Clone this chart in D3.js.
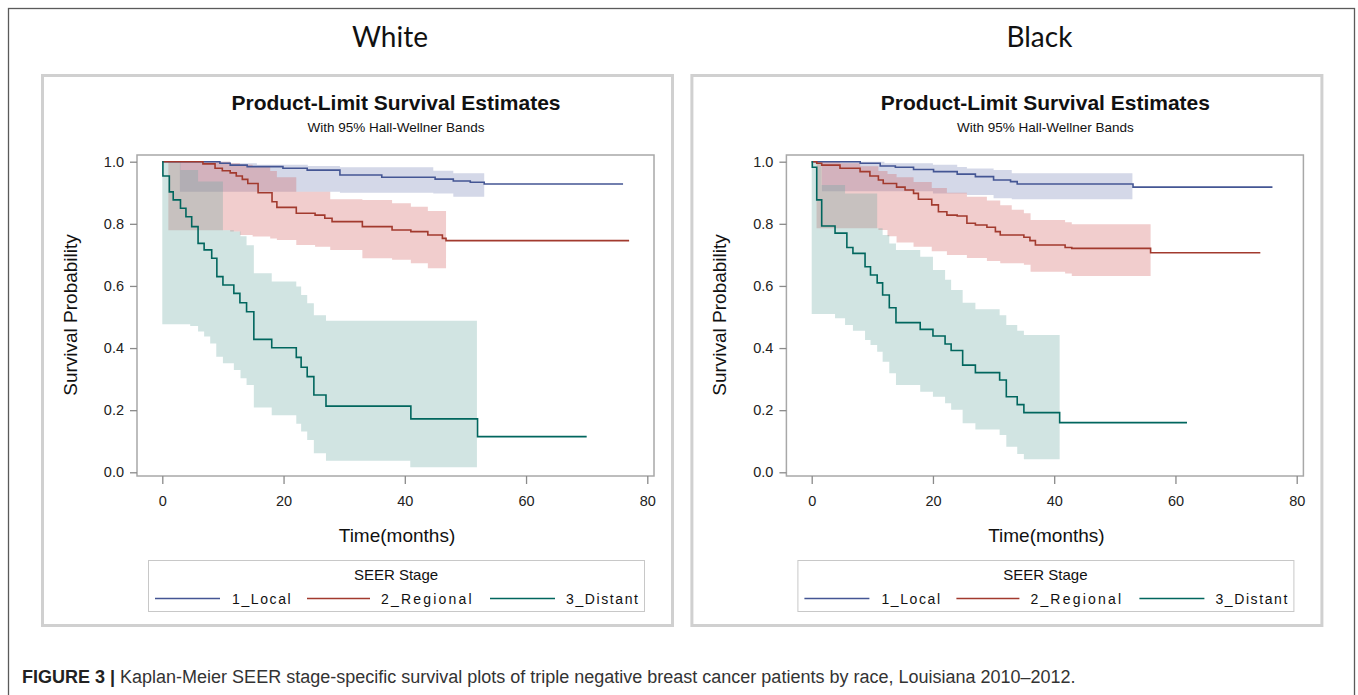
<!DOCTYPE html>
<html>
<head>
<meta charset="utf-8">
<script src="https://cdn.jsdelivr.net/npm/d3@7"></script>
<style>
  html, body { margin: 0; padding: 0; background: #fff; }
  svg { display: block; }
  text { font-family: "Liberation Sans", Arial, sans-serif; }
</style>
</head>
<body>
<svg id="chart" width="1358" height="695"></svg>
<script>
// ---------------- DATA ----------------
const panelNames = ["White", "Black"];
const seriesNames = ["1_Local", "2_Regional", "3_Distant"];
const xTicks = [0, 20, 40, 60, 80];
const yTicks = [0.0, 0.2, 0.4, 0.6, 0.8, 1.0];

// step points [time, survival]; curve held to the end time
const whiteLocal = [[0,1.0],[9.5,0.995],[11.2,0.989],[14,0.984],[19.9,0.979],[23.9,0.973],[29.3,0.957],[36.2,0.950],[45,0.944],[48,0.938],[50.8,0.934],[53.1,0.928]];
const whiteLocalEnd = 76;
const whiteRegional = [[0,1.0],[6.7,0.993],[8.7,0.979],[9.9,0.971],[11.2,0.964],[12.2,0.954],[13.2,0.943],[14.1,0.930],[15.8,0.900],[18.1,0.871],[18.9,0.853],[22.1,0.834],[25.2,0.828],[26.8,0.818],[28,0.807],[33,0.791],[37.9,0.780],[41,0.775],[43.8,0.764],[46.2,0.753],[46.8,0.746]];
const whiteRegionalEnd = 77;
const whiteDistant = [[0,1.0],[0.1,0.954],[1.16,0.903],[1.8,0.877],[3.0,0.850],[3.9,0.823],[4.85,0.791],[5.9,0.737],[6.9,0.716],[8.15,0.689],[9.0,0.630],[10.0,0.603],[11.8,0.576],[12.8,0.546],[13.9,0.517],[15.1,0.428],[18.05,0.401],[22.1,0.370],[22.9,0.338],[23.9,0.308],[25.0,0.249],[27.0,0.213],[41.0,0.172],[52.0,0.115]];
const whiteDistantEnd = 70;

// Hall-Wellner bands [time, lower, upper]
const whiteLocalBand = [[2.9,0.903,1.0],[11.2,0.903,0.995],[15.6,0.903,0.99],[24,0.903,0.986],[29.3,0.900,0.982],[44.7,0.898,0.971],[48,0.887,0.963]];
const whiteLocalBandEnd = 53.1;
const whiteRegionalBand = [[1.0,0.779,1.0],[11.2,0.775,0.995],[12.8,0.764,0.99],[14.9,0.759,0.985],[17.8,0.753,0.97],[18.9,0.748,0.95],[22.1,0.732,0.903],[25.2,0.726,0.903],[27.7,0.716,0.879],[33,0.689,0.877],[37.9,0.684,0.866],[41,0.673,0.855],[43.8,0.657,0.841]];
const whiteRegionalBandEnd = 46.8;
const whiteDistantBand = [[0,0.477,1.0],[3.0,0.477,0.973],[4.6,0.471,0.973],[5.9,0.453,0.936],[6.9,0.437,0.936],[7.9,0.415,0.936],[8.9,0.372,0.936],[10.0,0.351,0.779],[11.8,0.329,0.775],[12.9,0.303,0.76],[13.9,0.281,0.731],[15.1,0.209,0.641],[18.05,0.184,0.614],[22.1,0.156,0.598],[22.9,0.131,0.571],[23.9,0.104,0.544],[25.0,0.061,0.506],[27.0,0.037,0.488],[40.9,0.016,0.488]];
const whiteDistantBandEnd = 51.9;

const blackLocal = [[0,1.0],[8,0.995],[11.3,0.986],[13.8,0.982],[16.8,0.975],[20.1,0.968],[24,0.960],[27,0.952],[30,0.941],[32.8,0.936],[33.9,0.928],[53,0.918]];
const blackLocalEnd = 76;
const blackRegional = [[0,1.0],[0.83,0.995],[1.65,0.989],[4.67,0.979],[7.98,0.968],[9.6,0.954],[11,0.941],[11.8,0.930],[14,0.918],[15.4,0.909],[16.8,0.898],[17.6,0.879],[19.8,0.861],[20.9,0.839],[22.3,0.828],[24,0.825],[25.6,0.802],[27,0.796],[28.9,0.789],[30.3,0.775],[31.1,0.764],[35,0.757],[36,0.746],[36.9,0.732],[41.8,0.724],[42.9,0.721],[55.9,0.707]];
const blackRegionalEnd = 74;
const blackDistant = [[0,1.0],[0.1,0.982],[0.83,0.877],[1.65,0.793],[3.85,0.770],[5.8,0.724],[6.8,0.705],[8.8,0.662],[9.7,0.635],[10.8,0.610],[11.7,0.571],[12.8,0.530],[13.9,0.482],[17.9,0.460],[20,0.439],[22,0.413],[23,0.392],[24.9,0.345],[27,0.321],[31,0.297],[32.1,0.243],[33.9,0.218],[35,0.192],[40.9,0.160]];
const blackDistantEnd = 61.9;

const blackLocalBand = [[1.7,0.905,1.0],[12,0.905,0.995],[20,0.898,0.99],[24,0.898,0.983],[25.6,0.893,0.978],[30,0.882,0.973],[33,0.879,0.963]];
const blackLocalBandEnd = 52.9;
const blackRegionalBand = [[0.8,0.786,1.0],[4.67,0.786,0.995],[8,0.786,0.985],[11,0.78,0.97],[12.5,0.76,0.96],[14,0.74,0.95],[16.8,0.726,0.935],[19.8,0.712,0.915],[22.3,0.70,0.90],[25.6,0.69,0.887],[28.9,0.68,0.875],[31.1,0.673,0.86],[33,0.673,0.845],[35,0.668,0.834],[36.1,0.646,0.812],[41.8,0.64,0.805],[42.9,0.632,0.799]];
const blackRegionalBandEnd = 55.9;
const blackDistantBand = [[0,0.510,1.0],[1.65,0.510,0.925],[3.85,0.496,0.925],[5.5,0.474,0.898],[6.8,0.456,0.898],[8.8,0.426,0.898],[9.7,0.410,0.898],[10.8,0.388,0.786],[11.7,0.356,0.764],[12.8,0.319,0.737],[13.9,0.281,0.716],[17.9,0.259,0.694],[20,0.243,0.651],[22,0.222,0.62],[23,0.201,0.587],[24.9,0.158,0.546],[27,0.138,0.525],[31,0.120,0.506],[32.1,0.082,0.474],[33.9,0.059,0.456],[35,0.042,0.442]];
const blackDistantBandEnd = 40.9;

const captionBold = "FIGURE 3 |";
const captionText = " Kaplan-Meier SEER stage-specific survival plots of triple negative breast cancer patients by race, Louisiana 2010–2012.";

// ---------------- STYLE ----------------
const lineColors = ["#445694", "#A23A2E", "#01665E"];
const bandColors = ["#6F7EB3", "#D05B5B", "#66A5A0"];

const svg = d3.select("#chart");

// outer border
svg.append("rect").attr("x", 8.5).attr("y", 8.5).attr("width", 1346).attr("height", 720)
  .attr("fill", "none").attr("stroke", "#5a5a5a").attr("stroke-width", 1.3);

const panels = [
  { name: panelNames[0], dx: 0,
    lines: [[whiteLocal, whiteLocalEnd], [whiteRegional, whiteRegionalEnd], [whiteDistant, whiteDistantEnd]],
    bands: [[whiteLocalBand, whiteLocalBandEnd], [whiteRegionalBand, whiteRegionalBandEnd], [whiteDistantBand, whiteDistantBandEnd]] },
  { name: panelNames[1], dx: 649.4,
    lines: [[blackLocal, blackLocalEnd], [blackRegional, blackRegionalEnd], [blackDistant, blackDistantEnd]],
    bands: [[blackLocalBand, blackLocalBandEnd], [blackRegionalBand, blackRegionalBandEnd], [blackDistantBand, blackDistantBandEnd]] }
];

panels.forEach(p => {
  const g = svg.append("g").attr("transform", `translate(${p.dx},0)`);

  // race title
  g.append("text").attr("x", 390).attr("y", 47).attr("text-anchor", "middle")
    .style("font-family", "Lato, 'Open Sans', sans-serif").style("font-size", "28px").attr("fill", "#111")
    .text(p.name);

  // panel box
  g.append("rect").attr("x", 42.5).attr("y", 75.5).attr("width", 630).attr("height", 550)
    .attr("fill", "#fff").attr("stroke", "#d0d0d0").attr("stroke-width", 3);

  // titles
  g.append("text").attr("x", 396).attr("y", 110).attr("text-anchor", "middle")
    .style("font-size", "21px").style("font-weight", "bold").attr("fill", "#111")
    .text("Product-Limit Survival Estimates");
  g.append("text").attr("x", 396).attr("y", 132).attr("text-anchor", "middle")
    .style("font-size", "13.5px").attr("fill", "#111")
    .text("With 95% Hall-Wellner Bands");

  const x = d3.scaleLinear().domain([0, 80]).range([162.3, 647.3]);
  const y = d3.scaleLinear().domain([0, 1]).range([472.3, 161.7]);
  const fL = 137, fR = 654, fT = 155, fB = 476;

  // frame background
  g.append("rect").attr("x", fL).attr("y", fT).attr("width", fR - fL).attr("height", fB - fT)
    .attr("fill", "#fff");

  // bands
  const area = d3.area().curve(d3.curveStepAfter)
    .x(d => x(d[0])).y0(d => y(d[1])).y1(d => y(d[2]));
  p.bands.forEach((b, i) => {
    const pts = b[0].concat([[b[1], b[0][b[0].length - 1][1], b[0][b[0].length - 1][2]]]);
    g.append("path").attr("d", area(pts)).attr("fill", bandColors[i]).attr("fill-opacity", 0.3);
  });

  // step lines
  const line = d3.line().curve(d3.curveStepAfter).x(d => x(d[0])).y(d => y(d[1]));
  p.lines.forEach((l, i) => {
    const pts = l[0].concat([[l[1], l[0][l[0].length - 1][1]]]);
    g.append("path").attr("d", line(pts)).attr("fill", "none")
      .attr("stroke", lineColors[i]).attr("stroke-width", 1.6);
  });

  // frame
  g.append("rect").attr("x", fL).attr("y", fT).attr("width", fR - fL).attr("height", fB - fT)
    .attr("fill", "none").attr("stroke", "#a8a8a8").attr("stroke-width", 1.5);

  // axes
  const xAxis = g.append("g").attr("transform", `translate(0,${fB})`)
    .call(d3.axisBottom(x).tickValues(xTicks).tickSize(8).tickPadding(12).tickFormat(d3.format("d")));
  const yAxis = g.append("g").attr("transform", `translate(${fL},0)`)
    .call(d3.axisLeft(y).tickValues(yTicks).tickSize(7).tickPadding(6).tickFormat(d3.format(".1f")));
  [xAxis, yAxis].forEach(a => {
    a.select(".domain").remove();
    a.selectAll(".tick line").attr("stroke", "#8a8a8a").attr("stroke-width", 1.3);
    a.selectAll(".tick text").style("font-size", "14.5px").attr("fill", "#222")
      .style("font-family", "'Liberation Sans', Arial, sans-serif");
  });

  // axis labels
  g.append("text").attr("x", 397).attr("y", 542).attr("text-anchor", "middle")
    .style("font-size", "19px").attr("fill", "#111").text("Time(months)");
  g.append("text").attr("transform", "translate(77,315) rotate(-90)").attr("text-anchor", "middle")
    .style("font-size", "19px").attr("fill", "#111").text("Survival Probability");

  // legend
  g.append("rect").attr("x", 148.5).attr("y", 560.5).attr("width", 496).attr("height", 51)
    .attr("fill", "#fff").attr("stroke", "#c8c8c8").attr("stroke-width", 1);
  g.append("text").attr("x", 396).attr("y", 580).attr("text-anchor", "middle")
    .style("font-size", "15px").attr("fill", "#111").text("SEER Stage");
  const legX = [[155, 220, 232], [307, 370, 381], [490, 555, 566]];
  seriesNames.forEach((s, i) => {
    g.append("line").attr("x1", legX[i][0]).attr("x2", legX[i][1]).attr("y1", 598.5).attr("y2", 598.5)
      .attr("stroke", lineColors[i]).attr("stroke-width", 1.3);
    g.append("text").attr("x", legX[i][2]).attr("y", 603.5)
      .style("font-size", "14px").style("letter-spacing", i === 1 ? "2.2px" : "1.6px").attr("fill", "#111").text(s);
  });
});

// caption
const cap = svg.append("text").attr("x", 22).attr("y", 683).style("font-size", "18px").attr("fill", "#222");
cap.append("tspan").style("font-weight", "bold").text(captionBold);
cap.append("tspan").attr("fill", "#333").text(captionText);
</script>
</body>
</html>
